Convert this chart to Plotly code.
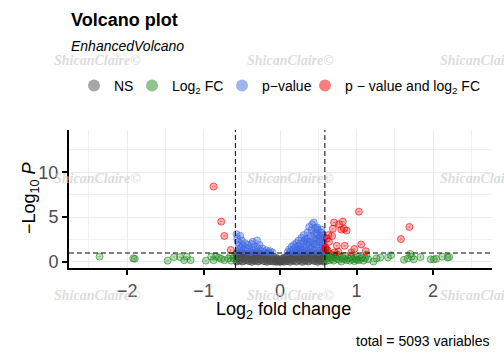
import plotly.graph_objects as go

# ---------------- data ----------------
ns_x = [-0.57, -0.57, -0.57, -0.57,
        -0.53, -0.53, -0.53,
        -0.49, -0.49, -0.49, -0.49,
        -0.45, -0.45, -0.45,
        -0.41, -0.41, -0.41,
        -0.37, -0.37, -0.37, -0.37,
        -0.33, -0.33, -0.33,
        -0.29, -0.29, -0.29, -0.29,
        -0.25, -0.25, -0.25,
        -0.21, -0.21, -0.21,
        -0.17, -0.17, -0.17, -0.17,
        -0.13, -0.13, -0.13,
        -0.09, -0.09, -0.09,
        -0.05, -0.05, -0.05,
        -0.02, -0.02,
        0.00, 0.00,
        0.02, 0.02,
        0.05, 0.05, 0.05,
        0.09, 0.09, 0.09,
        0.13, 0.13, 0.13, 0.13,
        0.17, 0.17, 0.17,
        0.21, 0.21, 0.21, 0.21,
        0.25, 0.25, 0.25,
        0.29, 0.29, 0.29, 0.29,
        0.33, 0.33, 0.33,
        0.37, 0.37, 0.37, 0.37,
        0.41, 0.41, 0.41,
        0.45, 0.45, 0.45,
        0.49, 0.49, 0.49, 0.49,
        0.53, 0.53, 0.53,
        0.57, 0.57, 0.57, 0.57]
ns_y = [0.05, 0.35, 0.70, 0.95,
        0.15, 0.50, 0.85,
        0.05, 0.40, 0.75, 0.98,
        0.20, 0.55, 0.90,
        0.10, 0.45, 0.80,
        0.02, 0.30, 0.65, 0.95,
        0.15, 0.50, 0.85,
        0.05, 0.35, 0.70, 0.97,
        0.20, 0.55, 0.90,
        0.08, 0.40, 0.75,
        0.02, 0.30, 0.60, 0.92,
        0.12, 0.45, 0.80,
        0.05, 0.30, 0.60,
        0.02, 0.20, 0.45,
        0.05, 0.30,
        0.02, 0.18,
        0.08, 0.32,
        0.03, 0.22, 0.48,
        0.10, 0.35, 0.65,
        0.02, 0.30, 0.60, 0.85,
        0.15, 0.50, 0.90,
        0.05, 0.40, 0.75, 0.97,
        0.20, 0.55, 0.88,
        0.02, 0.35, 0.70, 0.95,
        0.15, 0.50, 0.85,
        0.05, 0.40, 0.75, 0.98,
        0.20, 0.55, 0.90,
        0.10, 0.45, 0.80,
        0.02, 0.30, 0.65, 0.95,
        0.15, 0.50, 0.85,
        0.05, 0.35, 0.70, 0.97]

fc_x = [-2.36, -1.92, -1.90, -1.47, -1.385, -1.31, -1.255, -1.22, -1.17, -0.97,
        -0.90, -0.87, -0.84, -0.80, -0.77, -0.73, -0.675, -0.65, -0.64, -0.61,
        0.60, 0.61, 0.62, 0.63, 0.64, 0.65, 0.66, 0.68, 0.69, 0.70,
        0.72, 0.74, 0.75, 0.77, 0.78, 0.80, 0.82, 0.84, 0.85, 0.87,
        0.89, 0.91, 0.93, 0.95, 0.97, 0.99, 1.00, 1.01, 1.03, 1.05,
        1.07, 1.09, 1.11, 1.13, 1.15,
        1.22, 1.26, 1.31, 1.41, 1.45, 1.62, 1.67, 1.70, 1.72, 1.75,
        1.835, 1.97, 2.01, 2.04, 2.12, 2.19, 2.21]
fc_y = [0.60, 0.40, 0.35, 0.15, 0.55, 0.55, 0.20, 0.60, 0.20, 0.15,
        0.60, 0.20, 0.60, 0.50, 0.35, 0.20, 0.40, 0.70, 0.15, 0.45,
        0.10, 0.85, 0.40, 0.65, 0.20, 0.90, 0.50, 0.30, 0.75, 0.15,
        0.55, 0.35, 0.80, 0.25, 0.60, 0.05, 0.45, 0.30, 0.70, 0.20,
        0.40, 0.15, 0.55, 0.30, 0.10, 0.45, 0.25, 0.60, 0.20, 0.35,
        0.50, 0.15, 0.40, 0.80, 0.30,
        0.05, 0.40, 0.50, 0.50, 0.75, 0.25, 0.40, 0.90, 0.60, 0.30,
        0.55, 0.30, 0.30, 0.35, 0.60, 0.50, 0.55]

p_x = [-0.57, -0.56, -0.55, -0.54, -0.53, -0.52, -0.50, -0.49, -0.48, -0.46,
       -0.45, -0.43, -0.42, -0.40, -0.38, -0.37, -0.35, -0.33, -0.31, -0.29,
       -0.27, -0.25, -0.23, -0.20, -0.18, -0.15, -0.13, -0.10, -0.55, -0.51,
       -0.36, -0.30,
       0.10, 0.12, 0.14, 0.15, 0.17, 0.18, 0.19, 0.20, 0.21, 0.22,
       0.23, 0.24, 0.25, 0.26, 0.27, 0.28, 0.29, 0.30, 0.31, 0.31,
       0.32, 0.33, 0.34, 0.35, 0.36, 0.37, 0.38, 0.38, 0.39, 0.40,
       0.41, 0.42, 0.42, 0.43, 0.44, 0.44, 0.45, 0.46, 0.46, 0.47,
       0.48, 0.49, 0.49, 0.50, 0.51, 0.52, 0.52, 0.53, 0.54, 0.55,
       0.55, 0.56, 0.57, 0.57, 0.58, 0.58, 0.485, 0.42, 0.53, 0.56,
       0.36, 0.40, 0.45, 0.50, 0.27, 0.33, 0.47, 0.54]
p_y = [3.10, 2.60, 2.20, 1.80, 1.40, 2.90, 2.40, 1.90, 1.30, 2.10,
       1.60, 1.20, 1.90, 1.50, 1.10, 2.00, 1.30, 1.70, 1.15, 1.50,
       1.90, 1.20, 1.50, 1.10, 1.30, 1.05, 1.20, 1.05, 1.20, 1.60,
       2.25, 2.40,
       1.10, 1.40, 1.20, 1.70, 1.30, 1.90, 1.10, 1.60, 2.10, 1.30,
       1.80, 2.40, 1.10, 1.50, 2.00, 2.70, 1.30, 1.70, 2.30, 3.00,
       1.10, 1.50, 2.00, 2.60, 3.30, 1.30, 1.80, 3.90, 2.30, 2.90,
       3.50, 1.10, 1.60, 2.10, 2.60, 4.40, 3.10, 3.80, 1.30, 1.90,
       2.40, 3.00, 3.60, 1.10, 1.60, 2.20, 2.80, 3.30, 1.30, 1.90,
       2.50, 3.00, 1.50, 2.10, 1.20, 2.70, 3.85, 4.20, 2.80, 1.70,
       2.20, 1.40, 2.00, 2.60, 1.40, 2.50, 3.30, 3.60]

both_x = [-0.87, -0.77, -0.73, -0.645,
          1.03, 1.69, 1.58, 0.705, 0.82, 0.77, 0.69, 0.835, 0.87, 0.80,
          0.63, 0.68, 0.61, 0.64, 0.74, 0.845, 1.06, 0.97, 0.59, 0.60,
          0.76, 0.93, 1.12, 0.71, 0.595, 0.62]
both_y = [8.40, 4.50, 2.90, 1.33,
          5.60, 3.90, 2.55, 4.40, 4.50, 4.20, 3.70, 3.70, 3.50, 3.60,
          3.00, 2.90, 2.60, 2.25, 1.80, 1.80, 1.95, 1.45, 1.50, 1.40,
          1.15, 1.05, 1.20, 1.05, 1.60, 1.30]

legend_labels = ["NS", "Log<sub>2</sub> FC", "p\u2212value", "p \u2212 value and log<sub>2</sub> FC"]
fc_cutoff = 0.585
p_cutoff = 1.0
x_ticks = [-2, -1, 0, 1, 2]
y_ticks = [0, 5, 10]
total_vars = 5093

# ---------------- styling ----------------
FONT = "Liberation Sans"
cols = ["77,77,77", "34,139,34", "65,105,225", "238,0,0"]
fill_a = [0.6, 0.3, 0.35, 0.3]
line_a = [0.75, 0.6, 0.6, 0.6]
legend_ids = ["legend", "legend2", "legend3", "legend4"]
legend_left_px = [74, 132, 222, 305]

L, T, W, H = 69, 130, 423, 138
def px(x):
    return (x - L) / W
def py(y):
    return (T + H - y) / H

fig = go.Figure()
series = [(ns_x, ns_y), (fc_x, fc_y), (p_x, p_y), (both_x, both_y)]
for (sx, sy), c, fa, la in zip(series, cols, fill_a, line_a):
    fig.add_trace(go.Scatter(
        x=sx, y=sy, mode="markers", showlegend=False, hoverinfo="skip",
        marker=dict(symbol="circle-dot", size=7, color=f"rgba({c},{fa})",
                    line=dict(color=f"rgba({c},{la})", width=1))))
for lab, c, lid in zip(legend_labels, cols, legend_ids):
    fig.add_trace(go.Scatter(
        x=[None], y=[None], mode="markers", name=lab, legend=lid,
        marker=dict(symbol="circle", size=12, color=f"rgba({c},0.5)",
                    line=dict(width=0))))

axis_common = dict(showline=True, linecolor="black", linewidth=2,
                   ticks="outside", ticklen=5, tickwidth=2, tickcolor="black",
                   tickfont=dict(family=FONT, size=18, color="#4D4D4D"),
                   showgrid=True, gridcolor="#EBEBEB", gridwidth=1.2,
                   zeroline=False, mirror=False, automargin=False)
fig.update_xaxes(range=[-2.76, 2.77], tickvals=x_ticks,
                 minor=dict(tickvals=[-2.5, -1.5, -0.5, 0.5, 1.5, 2.5], showgrid=True,
                            gridcolor="#EFEFEF", gridwidth=0.8, ticks=""),
                 **axis_common)
fig.update_yaxes(range=[-0.67, 14.7], tickvals=y_ticks,
                 minor=dict(tickvals=[2.5, 7.5, 12.5], showgrid=True,
                            gridcolor="#EFEFEF", gridwidth=0.8, ticks=""),
                 **axis_common)

for xv in (-fc_cutoff, fc_cutoff):
    fig.add_shape(type="line", xref="x", yref="paper", x0=xv, x1=xv, y0=0, y1=1,
                  line=dict(color="black", width=1, dash="5px,3px"))
fig.add_shape(type="line", xref="paper", yref="y", x0=0, x1=1, y0=p_cutoff, y1=p_cutoff,
              line=dict(color="black", width=1, dash="5px,3px"))

ann = []
ann.append(dict(text="<b>Volcano plot</b>", x=px(69), y=py(20), xanchor="left", yanchor="middle",
                font=dict(family=FONT, size=18, color="black")))
ann.append(dict(text="<i>EnhancedVolcano</i>", x=px(69), y=py(46), xanchor="left", yanchor="middle",
                font=dict(family=FONT, size=14, color="black")))
ann.append(dict(text="Log<sub>2</sub> fold change", x=px(283), y=py(310), xanchor="center", yanchor="middle",
                font=dict(family=FONT, size=18, color="black")))
ann.append(dict(text="\u2212Log<sub>10</sub> <i>P</i>", x=px(30), y=py(198), xanchor="center", yanchor="middle",
                textangle=-90, font=dict(family=FONT, size=18, color="black")))
ann.append(dict(text=f"total = {total_vars} variables", x=px(491), y=py(341), xanchor="right", yanchor="middle",
                font=dict(family=FONT, size=14, color="black")))
for wy in (60, 178, 295):
    for wx in (52, 245, 438):
        ann.append(dict(text="<b><i>ShicanClaire\u00a9</i></b>", x=px(wx), y=py(wy),
                        xanchor="left", yanchor="middle",
                        font=dict(family="Liberation Serif", size=14, color="rgba(200,200,200,0.65)")))
for a in ann:
    a.update(xref="paper", yref="paper", showarrow=False)

legend_layout = {}
for lid, lx in zip(legend_ids, legend_left_px):
    legend_layout[lid] = dict(orientation="h", x=px(lx), y=py(86), xanchor="left", yanchor="middle",
                              font=dict(family=FONT, size=14, color="black"),
                              bgcolor="rgba(0,0,0,0)", itemsizing="trace", borderwidth=0)

fig.update_layout(
    width=504, height=360,
    margin=dict(l=L, r=504 - L - W, t=T, b=360 - T - H, autoexpand=False),
    plot_bgcolor="white", paper_bgcolor="white",
    annotations=ann,
    **legend_layout,
)
fig.write_html("out.html", config={"displayModeBar": False},
               post_script="document.body.style.margin='0px';")
